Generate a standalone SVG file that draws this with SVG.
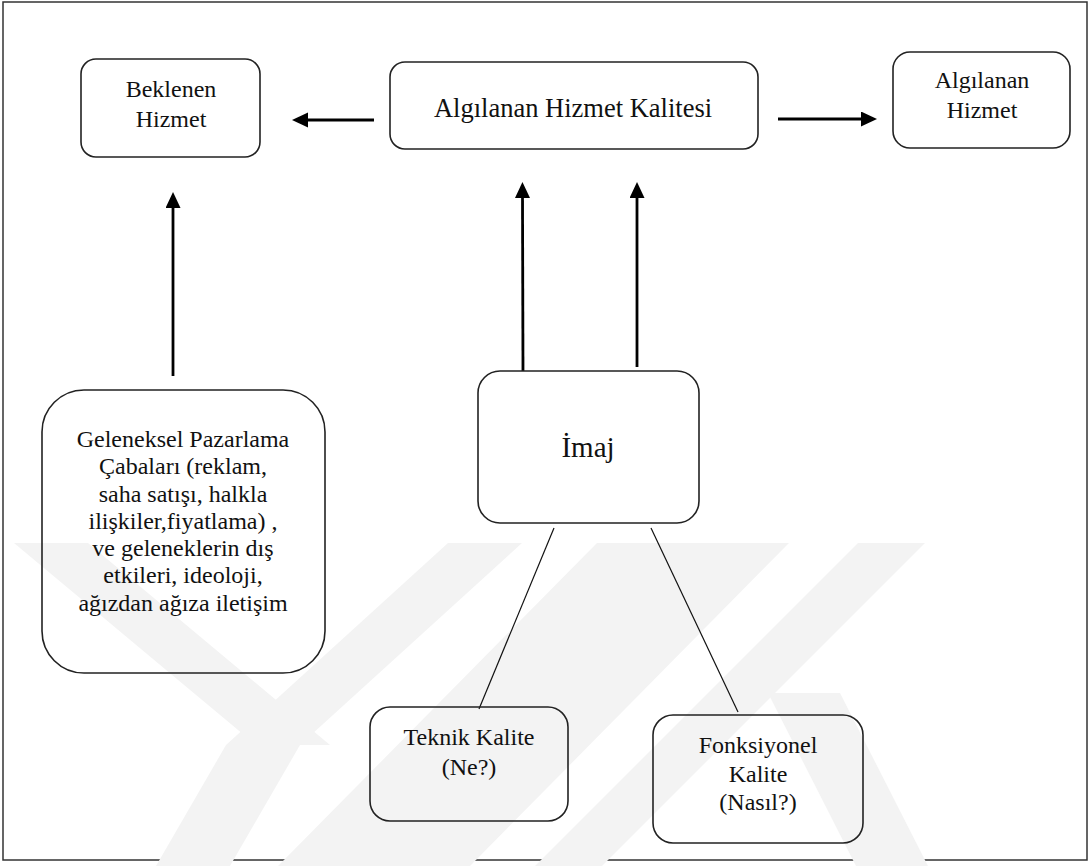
<svg xmlns="http://www.w3.org/2000/svg" width="1091" height="866" viewBox="0 0 1091 866">
  <defs>
    <style>
      .frame { fill: #ffffff; stroke: #333333; stroke-width: 1.5; }
      .box { fill: none; stroke: #222222; stroke-width: 1.6; }
      .arrow { stroke: #000000; stroke-width: 2.8; fill: none; }
      .link { stroke: #111111; stroke-width: 1.2; fill: none; }
      .wm { fill: #f3f3f3; }
      .label { font-family: "Liberation Serif", "DejaVu Serif", serif; fill: #111111; text-anchor: middle; }
      .t24 { font-size: 24px; }
      .t26 { font-size: 26.5px; }
      .t29 { font-size: 29px; }
    </style>
    <marker id="head" markerUnits="userSpaceOnUse" markerWidth="18" markerHeight="16" refX="0" refY="7.5" orient="auto">
      <path d="M0,0 L16,7.5 L0,15 Z" fill="#000000"/>
    </marker>
  </defs>

  <!-- page frame -->
  <rect class="frame" x="3" y="2" width="1084" height="858"/>

  <!-- faint background emblem -->
  <g id="emblem">
    <polygon class="wm" points="14,543 88,543 330,745 256,745"/>
    <polygon class="wm" points="448,543 522,543 300,745 226,745"/>
    <polygon class="wm" points="226,745 300,745 230,866 156,866"/>
    <polygon class="wm" points="597,543 789,543 470,866 278,866"/>
    <polygon class="wm" points="858,543 925,543 602,866 535,866"/>
    <polygon class="wm" points="768,693 840,693 928,866 856,866"/>
  </g>

  <!-- connectors -->
  <g id="connectors">
    <line class="arrow" x1="374" y1="120" x2="308" y2="120" marker-end="url(#head)"/>
    <line class="arrow" x1="778" y1="119" x2="861" y2="119" marker-end="url(#head)"/>
    <line class="arrow" x1="173" y1="376" x2="173" y2="208" marker-end="url(#head)"/>
    <line class="arrow" x1="523" y1="371" x2="522.5" y2="198" marker-end="url(#head)"/>
    <line class="arrow" x1="637" y1="367" x2="637" y2="198" marker-end="url(#head)"/>
    <line class="link" x1="554" y1="528" x2="479" y2="709"/>
    <line class="link" x1="651" y1="528" x2="738" y2="712"/>
  </g>

  <g id="beklenen-hizmet" class="label">
    <rect class="box" x="81" y="59" width="179" height="98" rx="15"/>
    <text class="t24" x="171" y="97">Beklenen</text>
    <text class="t24" x="171" y="127">Hizmet</text>
  </g>

  <g id="algilanan-hizmet-kalitesi" class="label">
    <rect class="box" x="390" y="62" width="368" height="87" rx="15"/>
    <text class="t26" x="573" y="117">Algılanan Hizmet Kalitesi</text>
  </g>

  <g id="algilanan-hizmet" class="label">
    <rect class="box" x="893" y="52" width="177" height="96" rx="17"/>
    <text class="t24" x="982" y="88">Algılanan</text>
    <text class="t24" x="982" y="118">Hizmet</text>
  </g>

  <g id="geleneksel-pazarlama" class="label">
    <rect class="box" x="42" y="390" width="283" height="283" rx="42"/>
    <text class="t24" x="183" y="447">Geleneksel Pazarlama</text>
    <text class="t24" x="183" y="474">Çabaları (reklam,</text>
    <text class="t24" x="183" y="502">saha satışı, halkla</text>
    <text class="t24" x="183" y="529">ilişkiler,fiyatlama) ,</text>
    <text class="t24" x="183" y="556">ve geleneklerin dış</text>
    <text class="t24" x="183" y="583">etkileri, ideoloji,</text>
    <text class="t24" x="183" y="611">ağızdan ağıza iletişim</text>
  </g>

  <g id="imaj" class="label">
    <rect class="box" x="478" y="371" width="221" height="152" rx="22"/>
    <text class="t29" x="588" y="457">İmaj</text>
  </g>

  <g id="teknik-kalite" class="label">
    <rect class="box" x="370" y="707" width="198" height="114" rx="20"/>
    <text class="t24" x="469" y="745">Teknik Kalite</text>
    <text class="t24" x="469" y="775">(Ne?)</text>
  </g>

  <g id="fonksiyonel-kalite" class="label">
    <rect class="box" x="653" y="715" width="210" height="128" rx="20"/>
    <text class="t24" x="758" y="753">Fonksiyonel</text>
    <text class="t24" x="758" y="782">Kalite</text>
    <text class="t24" x="758" y="810">(Nasıl?)</text>
  </g>
</svg>
